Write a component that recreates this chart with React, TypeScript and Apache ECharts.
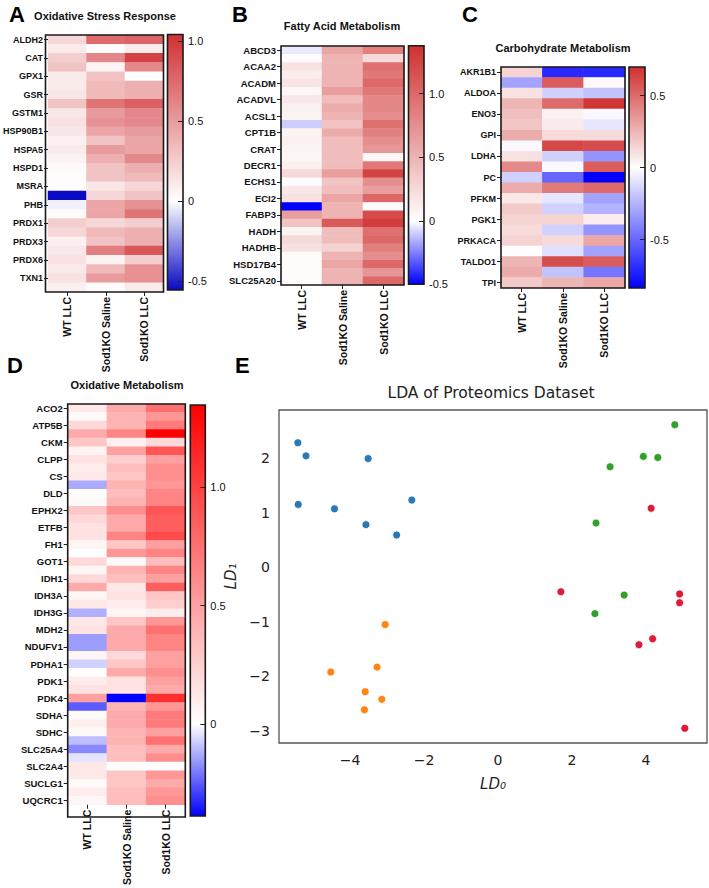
import React, { useEffect, useRef } from "react";
import * as echarts from "echarts";

// ---------- data ----------
const COLUMNS = ["WT LLC", "Sod1KO Saline", "Sod1KO LLC"];

// A: Oxidative Stress Response (28 rows, every other labelled)
const A_GENES = ["ALDH2", "CAT", "GPX1", "GSR", "GSTM1", "HSP90B1", "HSPA5", "HSPD1", "MSRA", "PHB", "PRDX1", "PRDX3", "PRDX6", "TXN1"];
const A_WT = [0.2, 0.1, 0.25, 0.3, 0.1, 0.1, 0.12, 0.3, 0.12, 0.15, 0.12, 0.08, 0.1, 0.06, 0.03, 0.01, 0.01, -0.55, -0.03, 0.03, 0.25, 0.2, 0.08, 0.12, 0.15, 0.1, 0.15, 0.08];
const A_SAL = [0.75, 0.02, 0.6, 0.05, 0.3, 0.35, 0.35, 0.7, 0.5, 0.55, 0.45, 0.3, 0.5, 0.4, 0.3, 0.3, 0.12, 0.2, 0.45, 0.45, 0.2, 0.35, 0.3, 0.65, 0.06, 0.35, 0.5, 0.02];
const A_LLC = [0.78, 0.1, 0.95, 0.6, 0.0, 0.4, 0.4, 0.8, 0.6, 0.6, 0.5, 0.45, 0.45, 0.6, 0.4, 0.35, 0.2, 0.3, 0.55, 0.7, 0.25, 0.4, 0.4, 0.85, 0.25, 0.55, 0.55, 0.1];
const A_RANGE = [-0.556, 1.04];
const A_TICKS = [-0.5, 0, 0.5, 1.0];

// B: Fatty Acid Metabolism (29 rows)
const B_GENES = ["ABCD3", "ACAA2", "ACADM", "ACADVL", "ACSL1", "CPT1B", "CRAT", "DECR1", "ECHS1", "ECI2", "FABP3", "HADH", "HADHB", "HSD17B4", "SLC25A20"];
const B_WT = [-0.04, 0.02, 0.2, 0.12, 0.18, 0.06, 0.15, 0.1, 0.08, -0.1, 0.08, 0.1, 0.08, 0.06, 0.1, 0.25, 0.0, 0.15, 0.2, -0.5, 0.65, 0.4, 0.08, 0.25, 0.2, 0.03, 0.03, 0.03, 0.03];
const B_SAL = [0.6, 0.5, 0.5, 0.5, 0.5, 0.65, 0.45, 0.55, 0.5, 0.4, 0.55, 0.45, 0.45, 0.45, 0.45, 0.65, 0.4, 0.45, 0.6, 0.5, 0.5, 1.1, 0.45, 0.45, 0.3, 0.5, 0.6, 0.5, 0.5];
const B_LLC = [0.85, 0.25, 0.95, 0.9, 1.0, 0.9, 0.8, 0.8, 0.75, 0.95, 0.85, 0.75, 0.7, 0.05, 0.9, 1.25, 0.75, 0.65, 1.0, 0.0, 1.2, 1.3, 0.95, 1.0, 0.85, 0.75, 1.0, 0.7, 1.0];
const B_RANGE = [-0.5, 1.378];
const B_TICKS = [-0.5, 0, 0.5, 1.0];

// C: Carbohydrate Metabolism (21 rows)
const C_GENES = ["AKR1B1", "ALDOA", "ENO3", "GPI", "LDHA", "PC", "PFKM", "PGK1", "PRKACA", "TALDO1", "TPI"];
const C_WT = [0.15, -0.3, 0.1, 0.25, 0.22, 0.2, 0.28, -0.02, 0.1, 0.4, -0.15, 0.28, 0.08, 0.18, 0.15, 0.12, 0.15, 0.01, 0.25, 0.28, 0.18];
const C_SAL = [-0.7, 0.55, -0.15, 0.5, 0.05, 0.07, 0.12, 0.62, -0.15, -0.02, -0.5, 0.45, -0.08, -0.15, 0.15, -0.15, 0.12, -0.1, 0.6, -0.2, 0.25];
const C_LLC = [-0.7, 0.02, -0.2, 0.68, -0.02, -0.08, 0.12, 0.6, -0.35, 0.55, -0.835, 0.5, -0.3, -0.25, 0.06, -0.35, 0.3, -0.3, 0.55, -0.45, 0.3];
const C_RANGE = [-0.835, 0.699];
const C_TICKS = [-0.5, 0, 0.5];

// D: Oxidative Metabolism (47 rows)
const D_GENES = ["ACO2", "ATP5B", "CKM", "CLPP", "CS", "DLD", "EPHX2", "ETFB", "FH1", "GOT1", "IDH1", "IDH3A", "IDH3G", "MDH2", "NDUFV1", "PDHA1", "PDK1", "PDK4", "SDHA", "SDHC", "SLC25A4", "SLC2A4", "SUCLG1", "UQCRC1"];
const D_WT = [0.12, 0.03, 0.2, 0.45, 0.3, 0.06, 0.15, 0.1, 0.12, -0.13, 0.02, 0.03, 0.3, 0.2, 0.15, 0.15, 0.05, 0.0, 0.2, 0.05, 0.2, 0.45, 0.05, 0.12, -0.12, 0.12, 0.15, -0.15, -0.15, 0.05, -0.07, 0.0, 0.1, 0.15, 0.5, -0.25, 0.03, 0.08, 0.03, -0.1, -0.18, -0.04, 0.12, 0.12, 0.03, 0.1, 0.04];
const D_SAL = [0.45, 0.4, 0.4, 0.65, 0.08, 0.5, 0.25, 0.35, 0.3, 0.4, 0.35, 0.4, 0.6, 0.45, 0.45, 0.65, 0.3, 0.55, 0.03, 0.4, 0.35, 0.12, 0.15, 0.1, 0.05, 0.3, 0.45, 0.45, 0.45, 0.2, 0.3, 0.45, 0.15, 0.15, -0.389, 0.4, 0.45, 0.45, 0.4, 0.4, 0.35, 0.35, 0.0, 0.3, 0.3, 0.35, 0.35];
const D_LLC = [0.75, 0.55, 0.7, 1.348, 0.2, 0.9, 0.5, 0.6, 0.6, 0.55, 0.65, 0.65, 0.9, 0.85, 0.85, 0.95, 0.5, 0.65, 0.35, 0.65, 0.5, 0.85, 0.3, 0.25, 0.1, 0.55, 0.75, 0.65, 0.65, 0.5, 0.5, 0.6, 0.5, 0.45, 1.1, 0.55, 0.7, 0.7, 0.5, 0.75, 0.45, 0.6, 0.0, 0.55, 0.45, 0.55, 0.6];
const D_RANGE = [-0.389, 1.348];
const D_TICKS = [0, 0.5, 1.0];

// E: LDA scatter
const E_X_TICKS = [-4, -2, 0, 2, 4];
const E_Y_TICKS = [-3, -2, -1, 0, 1, 2];
const BLUE_X = [-5.41, -5.19, -3.51, -5.4, -4.42, -3.57, -2.74, -2.33];
const BLUE_Y = [2.28, 2.04, 1.99, 1.15, 1.07, 0.78, 0.59, 1.23];
const ORANGE_X = [-3.05, -4.52, -3.27, -3.59, -3.14, -3.61];
const ORANGE_Y = [-1.05, -1.92, -1.83, -2.28, -2.42, -2.61];
const GREEN_X = [4.78, 3.93, 4.32, 3.03, 2.65, 3.41, 2.62];
const GREEN_Y = [2.61, 2.03, 2.01, 1.84, 0.81, -0.51, -0.85];
const RED_X = [4.14, 1.7, 4.91, 4.91, 3.81, 4.18, 5.05];
const RED_Y = [1.08, -0.45, -0.49, -0.65, -1.42, -1.31, -2.95];

// ---------- helpers ----------
const FONT = '"Liberation Sans", Arial, Helvetica, sans-serif';
const MPL = '"DejaVu Sans", sans-serif';

function hexToRgb(h: string) {
  const n = parseInt(h.slice(1), 16);
  return [(n >> 16) & 255, (n >> 8) & 255, n & 255];
}
function mix(c1: string, c2: string, t: number) {
  const a = hexToRgb(c1), b = hexToRgb(c2);
  const c = a.map((v, i) => Math.round(v + (b[i] - v) * Math.max(0, Math.min(1, t))));
  return "#" + c.map((v) => v.toString(16).padStart(2, "0")).join("");
}
function ramp(min: number, max: number, neg: string, pos: string) {
  const n = 80;
  const out: string[] = [];
  for (let i = 0; i <= n; i++) {
    const v = min + ((max - min) * i) / n;
    out.push(v < 0 ? mix("#ffffff", neg, v / min) : mix("#ffffff", pos, v / max));
  }
  return out;
}
function rowNames(genes: string[], n: number) {
  return Array.from({ length: n }, (_, i) => (i % 2 === 0 ? genes[i / 2] : genes[(i - 1) / 2] + "_" + i));
}
function heatData(cols: number[][]) {
  return cols.flatMap((col, c) => col.map((v, r) => [c, r, v]));
}
const fmtBar = (v: number) => (v === 0 ? "0" : v.toFixed(1));
const fmtMpl = (v: number) => String(v).replace("-", "\u2212");

type Panel = {
  letter: string; title: string; genes: string[]; cols: number[][]; range: number[]; ticks: number[];
  neg: string; pos: string;
  heat: { left: number; top: number; width: number; height: number };
  bar: { left: number; top: number; width: number; height: number };
  letterPos: number[]; titlePos: number[]; rowFont: number;
};

const PANELS: Panel[] = [
  {
    letter: "A", title: "Oxidative Stress Response", genes: A_GENES, cols: [A_WT, A_SAL, A_LLC], range: A_RANGE, ticks: A_TICKS,
    neg: "#0808c4", pos: "#d03034",
    heat: { left: 45.5, top: 35, width: 118, height: 257 },
    bar: { left: 167.5, top: 34.5, width: 15.5, height: 255.5 },
    letterPos: [9, 14], titlePos: [105, 16], rowFont: 9,
  },
  {
    letter: "B", title: "Fatty Acid Metabolism", genes: B_GENES, cols: [B_WT, B_SAL, B_LLC], range: B_RANGE, ticks: B_TICKS,
    neg: "#0000ff", pos: "#d03030",
    heat: { left: 281, top: 46, width: 123, height: 239 },
    bar: { left: 408.5, top: 45.7, width: 15.5, height: 238.6 },
    letterPos: [232, 14], titlePos: [342, 26], rowFont: 9.5,
  },
  {
    letter: "C", title: "Carbohydrate Metabolism", genes: C_GENES, cols: [C_WT, C_SAL, C_LLC], range: C_RANGE, ticks: C_TICKS,
    neg: "#0000ff", pos: "#d03030",
    heat: { left: 501, top: 67, width: 124, height: 221 },
    bar: { left: 629, top: 67, width: 16, height: 221 },
    letterPos: [462, 14], titlePos: [563, 48], rowFont: 9,
  },
  {
    letter: "D", title: "Oxidative Metabolism", genes: D_GENES, cols: [D_WT, D_SAL, D_LLC], range: D_RANGE, ticks: D_TICKS,
    neg: "#0000ff", pos: "#ff0000",
    heat: { left: 67.7, top: 404, width: 117.6, height: 413 },
    bar: { left: 190.3, top: 405, width: 15, height: 411 },
    letterPos: [7, 365], titlePos: [127, 385], rowFont: 9.5,
  },
];

const E_GRID = { left: 279, top: 410, width: 428, height: 333 };

function buildOption() {
  const grid: any[] = [];
  const xAxis: any[] = [];
  const yAxis: any[] = [];
  const series: any[] = [];
  const visualMap: any[] = [];
  const graphic: any[] = [];

  PANELS.forEach((p, k) => {
    const nRows = p.cols[0].length;
    const rows = rowNames(p.genes, nRows);
    const hg = grid.length;
    grid.push({ ...p.heat, show: false });
    xAxis.push({
      type: "category", gridIndex: hg, data: COLUMNS, z: 10,
      axisLine: { show: false },
      axisTick: { show: true, alignWithLabel: true, length: 4, lineStyle: { color: "#222", width: 1 } },
      axisLabel: { interval: 0, rotate: 90, margin: 5, fontSize: 10.5, fontWeight: "bold", fontFamily: FONT, color: "#111" },
      splitLine: { show: false },
    });
    yAxis.push({
      type: "category", gridIndex: hg, data: rows, inverse: true, z: 10,
      axisLine: { show: false },
      axisTick: { show: true, interval: 1, alignWithLabel: true, length: 4, lineStyle: { color: "#222", width: 1 } },
      axisLabel: { interval: 1, margin: 5, fontSize: p.rowFont, fontWeight: "bold", fontFamily: FONT, color: "#111" },
      splitLine: { show: false },
    });
    const hs = series.length;
    series.push({
      type: "heatmap", xAxisIndex: hg, yAxisIndex: hg, data: heatData(p.cols), silent: true,
      itemStyle: { borderWidth: 0 },
    });
    visualMap.push({
      type: "continuous", show: false, seriesIndex: hs, dimension: 2,
      min: p.range[0], max: p.range[1],
      inRange: { color: ramp(p.range[0], p.range[1], p.neg, p.pos) },
    });
    const bg = grid.length;
    grid.push({ ...p.bar, show: false });
    xAxis.push({ type: "category", gridIndex: bg, data: ["scale"], show: false });
    yAxis.push({
      type: "value", gridIndex: bg, position: "right", min: p.range[0], max: p.range[1], z: 10,
      axisLine: { show: false },
      splitLine: { show: false },
      axisTick: { show: true, inside: true, length: 5, customValues: p.ticks, lineStyle: { color: "#222", width: 1 } },
      axisLabel: { customValues: p.ticks, formatter: fmtBar, margin: 5, fontSize: 11, fontFamily: FONT, color: "#111" },
    });
    series.push({
      type: "bar", xAxisIndex: bg, yAxisIndex: bg, stack: "cb" + k, barWidth: "100%", silent: true,
      data: [p.range[1]],
      itemStyle: { color: { type: "linear", x: 0, y: 0, x2: 0, y2: 1, colorStops: [{ offset: 0, color: p.pos }, { offset: 1, color: "#ffffff" }] } },
    });
    series.push({
      type: "bar", xAxisIndex: bg, yAxisIndex: bg, stack: "cb" + k, barWidth: "100%", silent: true,
      data: [p.range[0]],
      itemStyle: { color: { type: "linear", x: 0, y: 0, x2: 0, y2: 1, colorStops: [{ offset: 0, color: "#ffffff" }, { offset: 1, color: p.neg }] } },
    });
    [p.heat, p.bar].forEach((r) => {
      graphic.push({
        type: "rect", silent: true, z: 100,
        shape: { x: r.left, y: r.top, width: r.width, height: r.height },
        style: { fill: "none", stroke: "#1a1a1a", lineWidth: 1.6 },
      });
    });
    graphic.push({
      type: "text", silent: true, z: 100, x: p.letterPos[0], y: p.letterPos[1],
      style: { text: p.letter, fontSize: 22, fontWeight: "bold", fontFamily: FONT, fill: "#000", align: "left", verticalAlign: "middle" },
    });
    graphic.push({
      type: "text", silent: true, z: 100, x: p.titlePos[0], y: p.titlePos[1],
      style: { text: p.title, fontSize: 11, fontWeight: "bold", fontFamily: FONT, fill: "#111", align: "center", verticalAlign: "middle" },
    });
  });

  const eg = grid.length;
  grid.push({ ...E_GRID, show: true, borderColor: "#555", borderWidth: 1.3 });
  xAxis.push({
    type: "value", gridIndex: eg, min: -5.92, max: 5.65,
    name: "LD\u2080", nameLocation: "middle", nameGap: 33,
    nameTextStyle: { fontFamily: MPL, fontSize: 15, fontStyle: "italic", color: "#222" },
    axisLine: { show: false }, axisTick: { show: false }, splitLine: { show: false },
    axisLabel: { customValues: E_X_TICKS, formatter: fmtMpl, margin: 10, fontSize: 14, fontFamily: MPL, color: "#222" },
  });
  yAxis.push({
    type: "value", gridIndex: eg, min: -3.22, max: 2.88,
    name: "LD\u2081", nameLocation: "middle", nameGap: 33,
    nameTextStyle: { fontFamily: MPL, fontSize: 15, fontStyle: "italic", color: "#222" },
    axisLine: { show: false }, axisTick: { show: false }, splitLine: { show: false },
    axisLabel: { customValues: E_Y_TICKS, formatter: fmtMpl, margin: 9, fontSize: 14, fontFamily: MPL, color: "#222" },
  });
  const groups: [number[], number[], string][] = [
    [BLUE_X, BLUE_Y, "#2a78b5"],
    [ORANGE_X, ORANGE_Y, "#ff8412"],
    [GREEN_X, GREEN_Y, "#33a02c"],
    [RED_X, RED_Y, "#dd1c3a"],
  ];
  groups.forEach(([xs, ys, color]) => {
    series.push({
      type: "scatter", xAxisIndex: eg, yAxisIndex: eg, symbol: "circle", symbolSize: 8, silent: true,
      data: xs.map((x, i) => [x, ys[i]]),
      itemStyle: { color, borderColor: "#ffffff", borderWidth: 0.8, opacity: 1 },
    });
  });
  graphic.push({
    type: "text", silent: true, z: 100, x: 235, y: 365,
    style: { text: "E", fontSize: 22, fontWeight: "bold", fontFamily: FONT, fill: "#000", align: "left", verticalAlign: "middle" },
  });
  graphic.push({
    type: "text", silent: true, z: 100, x: 491, y: 393,
    style: { text: "LDA of Proteomics Dataset", fontSize: 15.5, fontFamily: MPL, fill: "#222", align: "center", verticalAlign: "middle" },
  });

  return {
    animation: false,
    backgroundColor: "#ffffff",
    grid, xAxis, yAxis, series, visualMap, graphic,
  };
}

export default function App() {
  const ref = useRef<HTMLDivElement>(null);
  useEffect(() => {
    document.body.style.margin = "0";
    if (!ref.current) return;
    const chart = echarts.init(ref.current, undefined, { renderer: "svg" });
    chart.setOption(buildOption() as any);
    return () => chart.dispose();
  }, []);
  return <div ref={ref} style={{ width: 709, height: 888 }} />;
}
